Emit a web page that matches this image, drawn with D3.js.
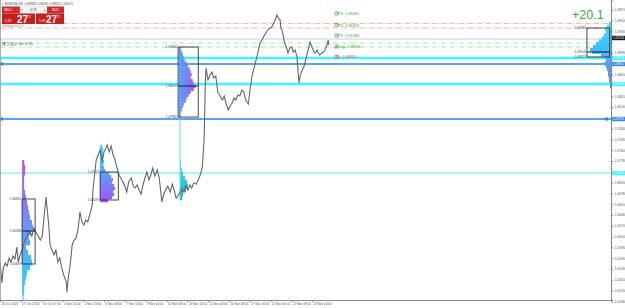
<!DOCTYPE html>
<html><head><meta charset="utf-8">
<script src="https://cdn.jsdelivr.net/npm/d3@7/dist/d3.min.js"></script>
<style>html,body{margin:0;padding:0;background:#fff;overflow:hidden}svg{display:block}text{font-family:"Liberation Sans",Arial,sans-serif}</style>
</head><body><svg id="c" width="625" height="308"></svg>
<script>
// ---------------- DATA ----------------
const dateLabels=["26 Oct 2023","27 Oct 23:00","31 Oct 07:00","1 Nov 15:00","2 Nov 23:00","6 Nov 08:00","7 Nov 16:00","9 Nov 00:00","10 Nov 08:00","13 Nov 16:00","15 Nov 00:00","16 Nov 08:00","17 Nov 16:00","21 Nov 00:00","22 Nov 08:00","23 Nov 16:00"];
const dateBars=[0,32,64,96,128,160,192,224,256,288,320,352,384,416,448,480];
const priceTicks=[1.09670,1.09500,1.09330,1.09160,1.08990,1.08820,1.08650,1.08480,1.08310,1.08140,1.07970,1.07800,1.07630,1.07460,1.07290,1.07120,1.06950,1.06780,1.06610,1.06440,1.06270,1.06100,1.05930,1.05760,1.05590,1.05420,1.05250,1.05080];
const seriesBars=[0,3,5,8,11,14,17,20,23,26,28,31,34,37,40,43,46,49,52,55,58,62,65,68,71,72,75,77,80,83,86,89,92,95,98,102,103,105,108,111,114,117,120,123,126,129,132,135,138,142,143,146,148,151,154,157,160,163,165,168,171,174,177,180,183,186,189,192,195,198,202,205,208,211,214,217,220,223,226,229,232,235,238,242,245,248,249,252,255,258,262,265,268,271,274,277,280,283,286,289,292,295,298,302,305,308,311,312,314,315,316,317,320,323,326,329,332,335,338,342,345,348,351,354,357,360,363,366,369,372,375,378,382,385,388,391,394,397,400,403,406,409,412,415,418,422,425,426,428,431,432,434,437,438,442,443,446,449,451,454,457,458,460,462,465,468,469,472,474,477,480,483,485,488,489,492,495,498,500,503,505,506];
const seriesPrices=[1.05700,1.05370,1.05606,1.05684,1.05637,1.05763,1.05700,1.05795,1.05747,1.05936,1.05700,1.05810,1.05889,1.05999,1.06078,1.06141,1.06172,1.06109,1.06235,1.06172,1.06125,1.06046,1.06109,1.06440,1.06723,1.06597,1.06282,1.05968,1.05889,1.05810,1.05889,1.05700,1.05763,1.05606,1.05495,1.05385,1.05228,1.05448,1.05653,1.05968,1.06046,1.06078,1.06204,1.06487,1.06330,1.06282,1.06361,1.06330,1.06440,1.06597,1.06833,1.07117,1.07306,1.07384,1.07463,1.07274,1.07432,1.07494,1.07542,1.07432,1.07526,1.07384,1.07306,1.07180,1.07069,1.07022,1.06959,1.06896,1.06802,1.06959,1.07022,1.06896,1.06865,1.06912,1.06833,1.06770,1.06912,1.07022,1.07117,1.06991,1.07069,1.07180,1.07054,1.07148,1.07022,1.06739,1.06645,1.06770,1.06833,1.06896,1.06802,1.06928,1.06833,1.06707,1.06739,1.06802,1.06849,1.06802,1.06896,1.06833,1.06912,1.06865,1.06944,1.06928,1.06991,1.07069,1.07180,1.07306,1.07620,1.08093,1.08565,1.08754,1.08565,1.08643,1.08691,1.08596,1.08628,1.08376,1.08329,1.08250,1.08313,1.08187,1.08093,1.08156,1.08203,1.08281,1.08250,1.08329,1.08313,1.08407,1.08376,1.08250,1.08187,1.08439,1.08643,1.08754,1.08880,1.09006,1.09147,1.09194,1.09257,1.09305,1.09352,1.09383,1.09399,1.09478,1.09556,1.09588,1.09541,1.09509,1.09383,1.09352,1.09194,1.09147,1.09037,1.08990,1.09068,1.09084,1.09006,1.09037,1.08927,1.08769,1.08518,1.08643,1.08722,1.08785,1.08832,1.08958,1.09037,1.09163,1.09084,1.09006,1.08990,1.09037,1.09006,1.08958,1.08990,1.09006,1.09037,1.09116,1.09194,1.09116];
// horizontal levels
const levelPrices=[1.08911,1.08817,1.08502,1.07951,1.07101];
const levelKinds=["cyan","blue","cyan","blue","teal"];
const redDashPrices=[1.09453,1.09383];
const greenDashPrices=[1.09147,1.09084];
const bidPrice=1.09210;
// trade labels
const tradeNames=["TP3","TP2","TP1","Entry","SL"];
const tradePrices=[1.09635,1.09453,1.09288,1.09116,1.08955];
// boxes: bar start, bar end, top, mid, bottom
const boxStart=[34,154,274,903];
const boxEnd=[54,182,305,938];
const boxTop=[1.06692,1.07117,1.09084,1.09383];
const boxMid=[1.06188,null,1.08470,1.09006];
const boxBottom=[1.05669,1.06676,1.07982,1.08927];
// volume profiles (row volumes, top -> bottom)
const p1Vols=[2,3,3,2,2,2,3,4,5,6,7,8,10,11,9,7,8,4,6,9,10,8,5,4,3,2,2];
const p2Vols=[2,3,3,4,3,4,3,4,5,9,11,13,12,14,15,13,14,12,8];
const p3Vols=[2,3,4,5,6,8,9,11,12,13,12,14,15,17,15,12,10,8,7,5,4,3,2,2];
const p3bVols=[1,1,2,3,5,7,8,6,3,2];
const p4Vols=[2,4,6,5,7,9,12,15,18,21,19,10,6,5,7,5,4,3,3,2,2,1,1];
const profileTop=[1.07306,1.07542,1.09084,1.07306,1.09478];
const profileBottom=[1.05181,1.06645,1.07982,1.06676,1.08440];
const profileStartBar=[34,154,275,277,940];
const profileRank=["p1","p2","p3","p3b","p4"];
const axisHighlights=[1.08911,1.08817,1.08502,1.07951,1.07101];
const currentPrice=1.09226;

// ---------------- CHART ----------------
const svg=d3.select("#c");
const R=611,B=300;
const x=d3.scaleLinear().domain([0,940]).range([0,R]);
const y=d3.scaleLinear().domain([1.05102,1.09824]).range([B,0]);
const f5=d3.format(".5f");
const defs=svg.append("defs");
function grad(id,x1,y1,x2,y2,c1,c2){const g=defs.append("linearGradient").attr("id",id).attr("gradientUnits","userSpaceOnUse").attr("x1",x1).attr("y1",y1).attr("x2",x2).attr("y2",y2);g.append("stop").attr("offset","0").attr("stop-color",c1);g.append("stop").attr("offset","1").attr("stop-color",c2);}
svg.append("rect").attr("width",625).attr("height",308).attr("fill","#fff");

// dashed trade lines
const dash="5,1.5,1,1.5";
svg.selectAll(".rd").data(redDashPrices).join("line").attr("x1",0).attr("x2",R).attr("y1",d=>y(d)).attr("y2",d=>y(d)).attr("stroke","#ff9a9a").attr("stroke-width",0.8).attr("stroke-dasharray",dash);
svg.append("line").attr("x1",0).attr("x2",R).attr("y1",y(bidPrice)).attr("y2",y(bidPrice)).attr("stroke","#e2e5ea").attr("stroke-width",2);
svg.selectAll(".gd").data(greenDashPrices).join("line").attr("x1",0).attr("x2",R).attr("y1",d=>y(d)).attr("y2",d=>y(d)).attr("stroke","#9ade9a").attr("stroke-width",0.8).attr("stroke-dasharray",dash);

// level lines
const lvlColor={cyan:"#3ff3ff",blue:"#5aa2f5",teal:"#62e6e6"};
const lvlW={cyan:2.6,blue:2,teal:1.1};
levelPrices.forEach((p,i)=>{const k=levelKinds[i];
 svg.append("line").attr("x1",0).attr("x2",R).attr("y1",y(p)).attr("y2",y(p)).attr("stroke",lvlColor[k]).attr("stroke-width",lvlW[k]);
 if(k==="blue"){svg.append("rect").attr("x",0).attr("y",y(p)-1.5).attr("width",3).attr("height",3).attr("fill","#2a7de0");
  svg.append("rect").attr("x",R-6).attr("y",y(p)-1.5).attr("width",3).attr("height",3).attr("fill","#2a7de0");}
});

// profiles
const profVols={p1:p1Vols,p2:p2Vols,p3:p3Vols,p3b:p3bVols,p4:p4Vols};
grad("g1",0,y(profileTop[0]),0,y(profileBottom[0]),"#b04cff","#20e0ff");
grad("g2",0,y(profileTop[1]),0,y(profileBottom[1]),"#10eaff","#a452ff");
grad("g3",x(profileStartBar[2]),0,x(profileStartBar[2])+18,0,"#4aa6ff","#b24cff");
grad("g3b",0,y(profileTop[3]),0,y(profileBottom[3]),"#40f0ff","#1aa8c8");
grad("g4",0,y(profileTop[4]),0,y(profileBottom[4]),"#22e8ff","#6a78ff");
const gid={p1:"g1",p2:"g2",p3:"g3",p3b:"g3b",p4:"g4"};
profileRank.forEach((k,pi)=>{
 const vols=profVols[k];const t=y(profileTop[pi]),b=y(profileBottom[pi]);const h=(b-t)/vols.length;
 const x0=x(profileStartBar[pi]);const right=(k==="p4");
 svg.append("g").selectAll("rect").data(vols).join("rect")
  .attr("x",d=>right?x0-d:x0).attr("y",(d,i)=>t+i*h).attr("width",d=>d).attr("height",h+0.3)
  .attr("fill","url(#"+gid[k]+")");
});
// vertical cyan lines
svg.append("line").attr("x1",x(profileStartBar[3])).attr("x2",x(profileStartBar[3])).attr("y1",y(boxBottom[2])).attr("y2",y(1.06676)).attr("stroke","#5ad8ff").attr("stroke-width",1);
svg.append("line").attr("x1",x(boxStart[0])+1).attr("x2",x(boxStart[0])+1).attr("y1",y(boxBottom[0])).attr("y2",B).attr("stroke","#5ab8ff").attr("stroke-width",1);

// price series
const line=d3.line().x((d,i)=>x(seriesBars[i])).y(d=>y(d));
svg.append("path").attr("d",line(seriesPrices)).attr("fill","none").attr("stroke","#666").attr("stroke-width",1.1);

// boxes
boxStart.forEach((s,i)=>{
 const x0=x(s),x1=x(boxEnd[i]),t=y(boxTop[i]),b=y(boxBottom[i]);
 svg.append("rect").attr("x",x0).attr("y",t).attr("width",x1-x0).attr("height",b-t).attr("fill","none").attr("stroke","#333").attr("stroke-width",0.9);
 const labs=[boxTop[i],boxMid[i],boxBottom[i]].filter(v=>v!==null);
 if(boxMid[i]!==null) svg.append("line").attr("x1",x0).attr("x2",x1).attr("y1",y(boxMid[i])).attr("y2",y(boxMid[i])).attr("stroke","#222").attr("stroke-width",1.1);
 labs.forEach(v=>svg.append("text").attr("x",x0-1).attr("y",y(v)+1).attr("text-anchor","end").attr("font-size",3.2).attr("fill","#444").text(f5(v)));
});

// trade labels
tradeNames.forEach((n,i)=>{
 const yy=y(tradePrices[i])+3;const c=n==="SL"?"#e04848":"#3a9a3a";
 svg.append("rect").attr("x",335).attr("y",yy-3).attr("width",3).attr("height",3).attr("fill","none").attr("stroke",c).attr("stroke-width",0.6);
 svg.append("text").attr("x",336).attr("y",yy).attr("font-size",3.8).attr("fill",c).text(n+": "+f5(tradePrices[i]));
});

// profit text
svg.append("text").attr("x",572).attr("y",19).attr("font-size",12.5).attr("fill","#3aae3a").text("+20.1");

// axes
svg.append("rect").attr("x",R).attr("y",0).attr("width",14).attr("height",308).attr("fill","#fff");
svg.append("rect").attr("x",0).attr("y",B).attr("width",625).attr("height",8).attr("fill","#fff");
const hlPrices=[currentPrice].concat(axisHighlights);
const ya=svg.append("g").attr("transform","translate("+R+",0)").call(d3.axisRight(y).tickValues(priceTicks).tickFormat(f5).tickSize(2).tickPadding(1.5));
ya.selectAll("text").attr("font-size",3.1).attr("fill","#555");
ya.selectAll(".tick text").filter(d=>hlPrices.some(p=>Math.abs(y(p)-y(d))<5)).remove();
ya.select(".domain").attr("stroke","#888");ya.selectAll(".tick line").attr("stroke","#888");
const xa=svg.append("g").attr("transform","translate(0,"+B+")").call(d3.axisBottom(x).tickValues(dateBars).tickFormat((d,i)=>dateLabels[i]).tickSize(2).tickPadding(1));
xa.selectAll("text").attr("font-size",3.1).attr("fill","#555").attr("text-anchor","start").attr("dx",0.8);
xa.select(".domain").attr("stroke","#888");xa.selectAll(".tick line").attr("stroke","#888");
svg.append("line").attr("x1",0.5).attr("x2",0.5).attr("y1",0).attr("y2",B).attr("stroke","#999").attr("stroke-width",0.8);
// highlighted axis labels
const hl=[{p:currentPrice,c:"#111",t:"#fff"}].concat(axisHighlights.map((p,i)=>({p,c:levelKinds[i]==="blue"?"#3b86ee":"#3ff3ff",t:"#fff"})));
hl.forEach(h=>{svg.append("rect").attr("x",R+1).attr("y",y(h.p)-2.2).attr("width",13).attr("height",4.4).attr("fill",h.c);
 svg.append("text").attr("x",R+2).attr("y",y(h.p)+1.1).attr("font-size",3.1).attr("fill",h.t).text(f5(h.p));});

// one-click panel
svg.append("text").attr("x",2).attr("y",5).attr("font-size",3.2).attr("fill","#444").text("▾ EURUSD,H1  1.08946 1.09020 1.08922 1.09072");
const red="#d42a2a";
svg.append("rect").attr("x",2).attr("y",6.5).attr("width",18).attr("height",7).attr("fill",red);
svg.append("text").attr("x",4).attr("y",11.3).attr("font-size",3.4).attr("fill","#fff").text("SELL");
svg.append("rect").attr("x",20).attr("y",6.5).attr("width",27).attr("height",7).attr("fill","#f4f4f4").attr("stroke","#ccc").attr("stroke-width",0.4);
svg.append("text").attr("x",21).attr("y",11).attr("font-size",3).attr("fill","#555").text("▾");
svg.append("text").attr("x",33.5).attr("y",11.3).attr("font-size",3.4).attr("text-anchor","middle").attr("fill","#333").text("0.15");
svg.append("text").attr("x",44).attr("y",11).attr("font-size",3).attr("fill","#555").text("▴");
svg.append("rect").attr("x",47).attr("y",6.5).attr("width",17).attr("height",7).attr("fill",red);
svg.append("text").attr("x",55.5).attr("y",11.3).attr("font-size",3.4).attr("text-anchor","middle").attr("fill","#fff").text("BUY");
[[2,33],[36,28]].forEach(([bx,bw])=>{
 svg.append("rect").attr("x",bx).attr("y",13.5).attr("width",bw).attr("height",10.5).attr("fill","#c81e1e");
 svg.append("text").attr("x",bx+3).attr("y",21.5).attr("font-size",3.2).attr("fill","#fff").text("1.09");
 svg.append("text").attr("x",bx+bw-18).attr("y",22.5).attr("font-size",10).attr("font-weight","bold").attr("fill","#fff").text("27");
 svg.append("text").attr("x",bx+bw-6.5).attr("y",18).attr("font-size",4).attr("fill","#fff").text("2");
});
svg.append("text").attr("x",2).attr("y",27).attr("font-size",2.6).attr("fill","#777").text("平均約定 lot 0.15");
svg.append("text").attr("x",2).attr("y",45).attr("font-size",4.2).attr("fill","#555").text("建玉合計 lot 0.15");
</script></body></html>
